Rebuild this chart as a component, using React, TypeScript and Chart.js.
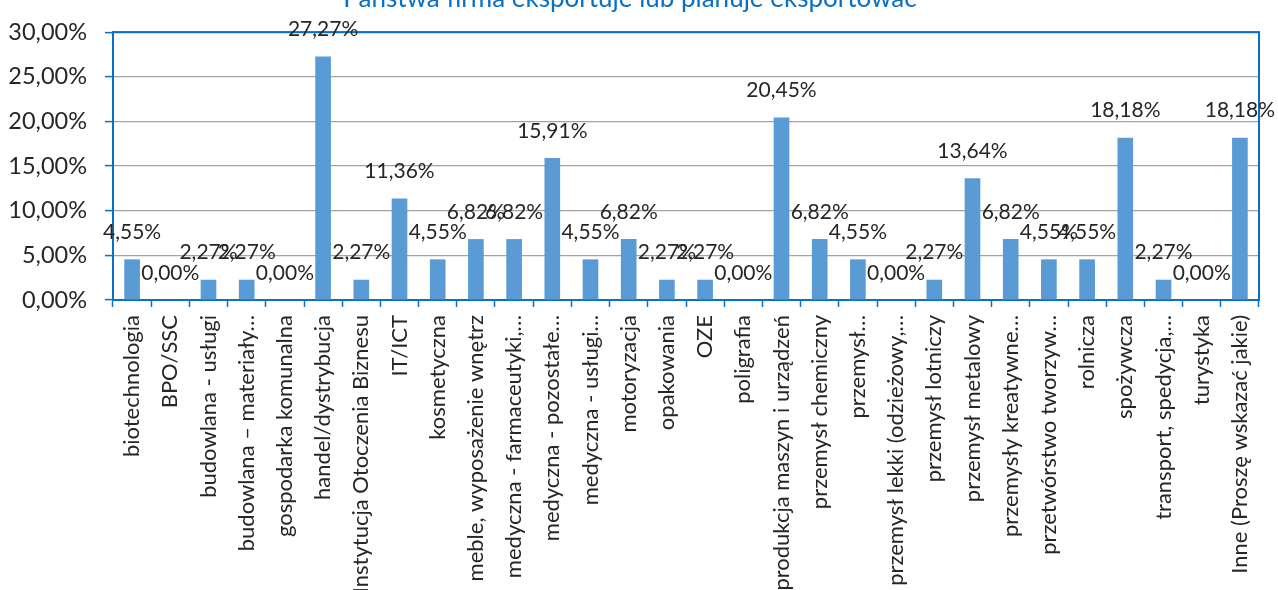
import React, { useEffect, useRef } from "react";
import { Chart, registerables } from "chart.js";

Chart.register(...registerables);

const chartTitle = "Państwa firma eksportuje lub planuje eksportować";

const categories = [
  "biotechnologia",
  "BPO/SSC",
  "budowlana - usługi",
  "budowlana – materiały…",
  "gospodarka komunalna",
  "handel/dystrybucja",
  "Instytucja Otoczenia Biznesu",
  "IT/ICT",
  "kosmetyczna",
  "meble, wyposażenie wnętrz",
  "medyczna - farmaceutyki,…",
  "medyczna - pozostałe…",
  "medyczna - usługi…",
  "motoryzacja",
  "opakowania",
  "OZE",
  "poligrafia",
  "produkcja maszyn i urządzeń",
  "przemysł chemiczny",
  "przemysł…",
  "przemysł lekki (odzieżowy,…",
  "przemysł lotniczy",
  "przemysł metalowy",
  "przemysły kreatywne…",
  "przetwórstwo tworzyw…",
  "rolnicza",
  "spożywcza",
  "transport, spedycja,…",
  "turystyka",
  "Inne (Proszę wskazać jakie)",
];

const values = [
  4.55, 0, 2.27, 2.27, 0, 27.27, 2.27, 11.36, 4.55, 6.82, 6.82, 15.91, 4.55,
  6.82, 2.27, 2.27, 0, 20.45, 6.82, 4.55, 0, 2.27, 13.64, 6.82, 4.55, 4.55,
  18.18, 2.27, 0, 18.18,
];

const yMin = 0;
const yMax = 30;
const yStep = 5;

const FONT = "Lato, 'Open Sans', sans-serif";
const BLUE = "#0A70C4";
const BAR = "#5B9BD5";
const TEXT = "#262626";

const fmt = (v: number) => v.toFixed(2).replace(".", ",") + "%";

const W = 1278;
const H = 590;

export default function App() {
  const ref = useRef<HTMLCanvasElement | null>(null);

  useEffect(() => {
    const canvas = ref.current;
    if (!canvas) return;

    const titlePlugin = {
      id: "customTitle",
      afterDraw(chart: any) {
        const ctx = chart.ctx;
        ctx.save();
        ctx.font = `26px ${FONT}`;
        ctx.fillStyle = BLUE;
        ctx.textAlign = "center";
        ctx.textBaseline = "alphabetic";
        ctx.fillText(chartTitle, 630, 7);
        ctx.restore();
      },
    };

    const borderPlugin = {
      id: "plotBorder",
      beforeDatasetsDraw(chart: any) {
        const { ctx, chartArea } = chart;
        ctx.save();
        ctx.strokeStyle = BLUE;
        ctx.lineWidth = 2;
        ctx.strokeRect(
          chartArea.left,
          chartArea.top,
          chartArea.right - chartArea.left,
          chartArea.bottom - chartArea.top
        );
        ctx.restore();
      },
    };

    const labelPlugin = {
      id: "valueLabels",
      afterDatasetsDraw(chart: any) {
        const ctx = chart.ctx;
        const meta = chart.getDatasetMeta(0);
        ctx.save();
        ctx.font = `21px ${FONT}`;
        ctx.fillStyle = TEXT;
        ctx.textAlign = "center";
        ctx.textBaseline = "middle";
        meta.data.forEach((el: any, i: number) => {
          ctx.fillText(fmt(values[i]), el.x, el.y - 27);
        });
        ctx.restore();
      },
    };

    const chart = new Chart(canvas, {
      type: "bar",
      data: {
        labels: categories,
        datasets: [
          {
            data: values,
            backgroundColor: BAR,
            borderWidth: 0,
            barPercentage: 0.41,
            categoryPercentage: 1,
          },
        ],
      },
      options: {
        animation: false,
        responsive: false,
        maintainAspectRatio: false,
        layout: { padding: { top: 25, right: 19, left: 0, bottom: 0 } },
        plugins: {
          legend: { display: false },
          title: { display: false },
          tooltip: { enabled: false },
        },
        scales: {
          x: {
            afterFit(scale: any) {
              scale.height = H - 300;
            },
            grid: {
              display: true,
              drawOnChartArea: false,
              drawTicks: true,
              tickLength: 7,
              tickColor: BLUE,
              tickWidth: 1.5,
              offset: true,
            },
            border: { color: BLUE, width: 2 },
            ticks: {
              autoSkip: false,
              minRotation: 90,
              maxRotation: 90,
              padding: 8,
              color: TEXT,
              font: { family: FONT, size: 22 },
            },
          },
          y: {
            min: yMin,
            max: yMax,
            afterFit(scale: any) {
              scale.width = 113;
            },
            grid: {
              color: "#a3a3a3",
              lineWidth: 1.2,
              drawTicks: true,
              tickLength: 8,
              tickColor: BLUE,
              tickWidth: 1.5,
            },
            border: { color: BLUE, width: 2 },
            ticks: {
              stepSize: yStep,
              padding: 18,
              color: TEXT,
              font: { family: FONT, size: 23.5 },
              callback: (v: any) => fmt(Number(v)),
            },
          },
        },
      },
      plugins: [borderPlugin, labelPlugin, titlePlugin],
    });

    return () => chart.destroy();
  }, []);

  return (
    <div
      style={{
        position: "absolute",
        left: 0,
        top: 0,
        width: W,
        height: H,
        overflow: "hidden",
        background: "#fff",
      }}
    >
      <canvas ref={ref} width={W} height={H} style={{ display: "block" }} />
    </div>
  );
}
